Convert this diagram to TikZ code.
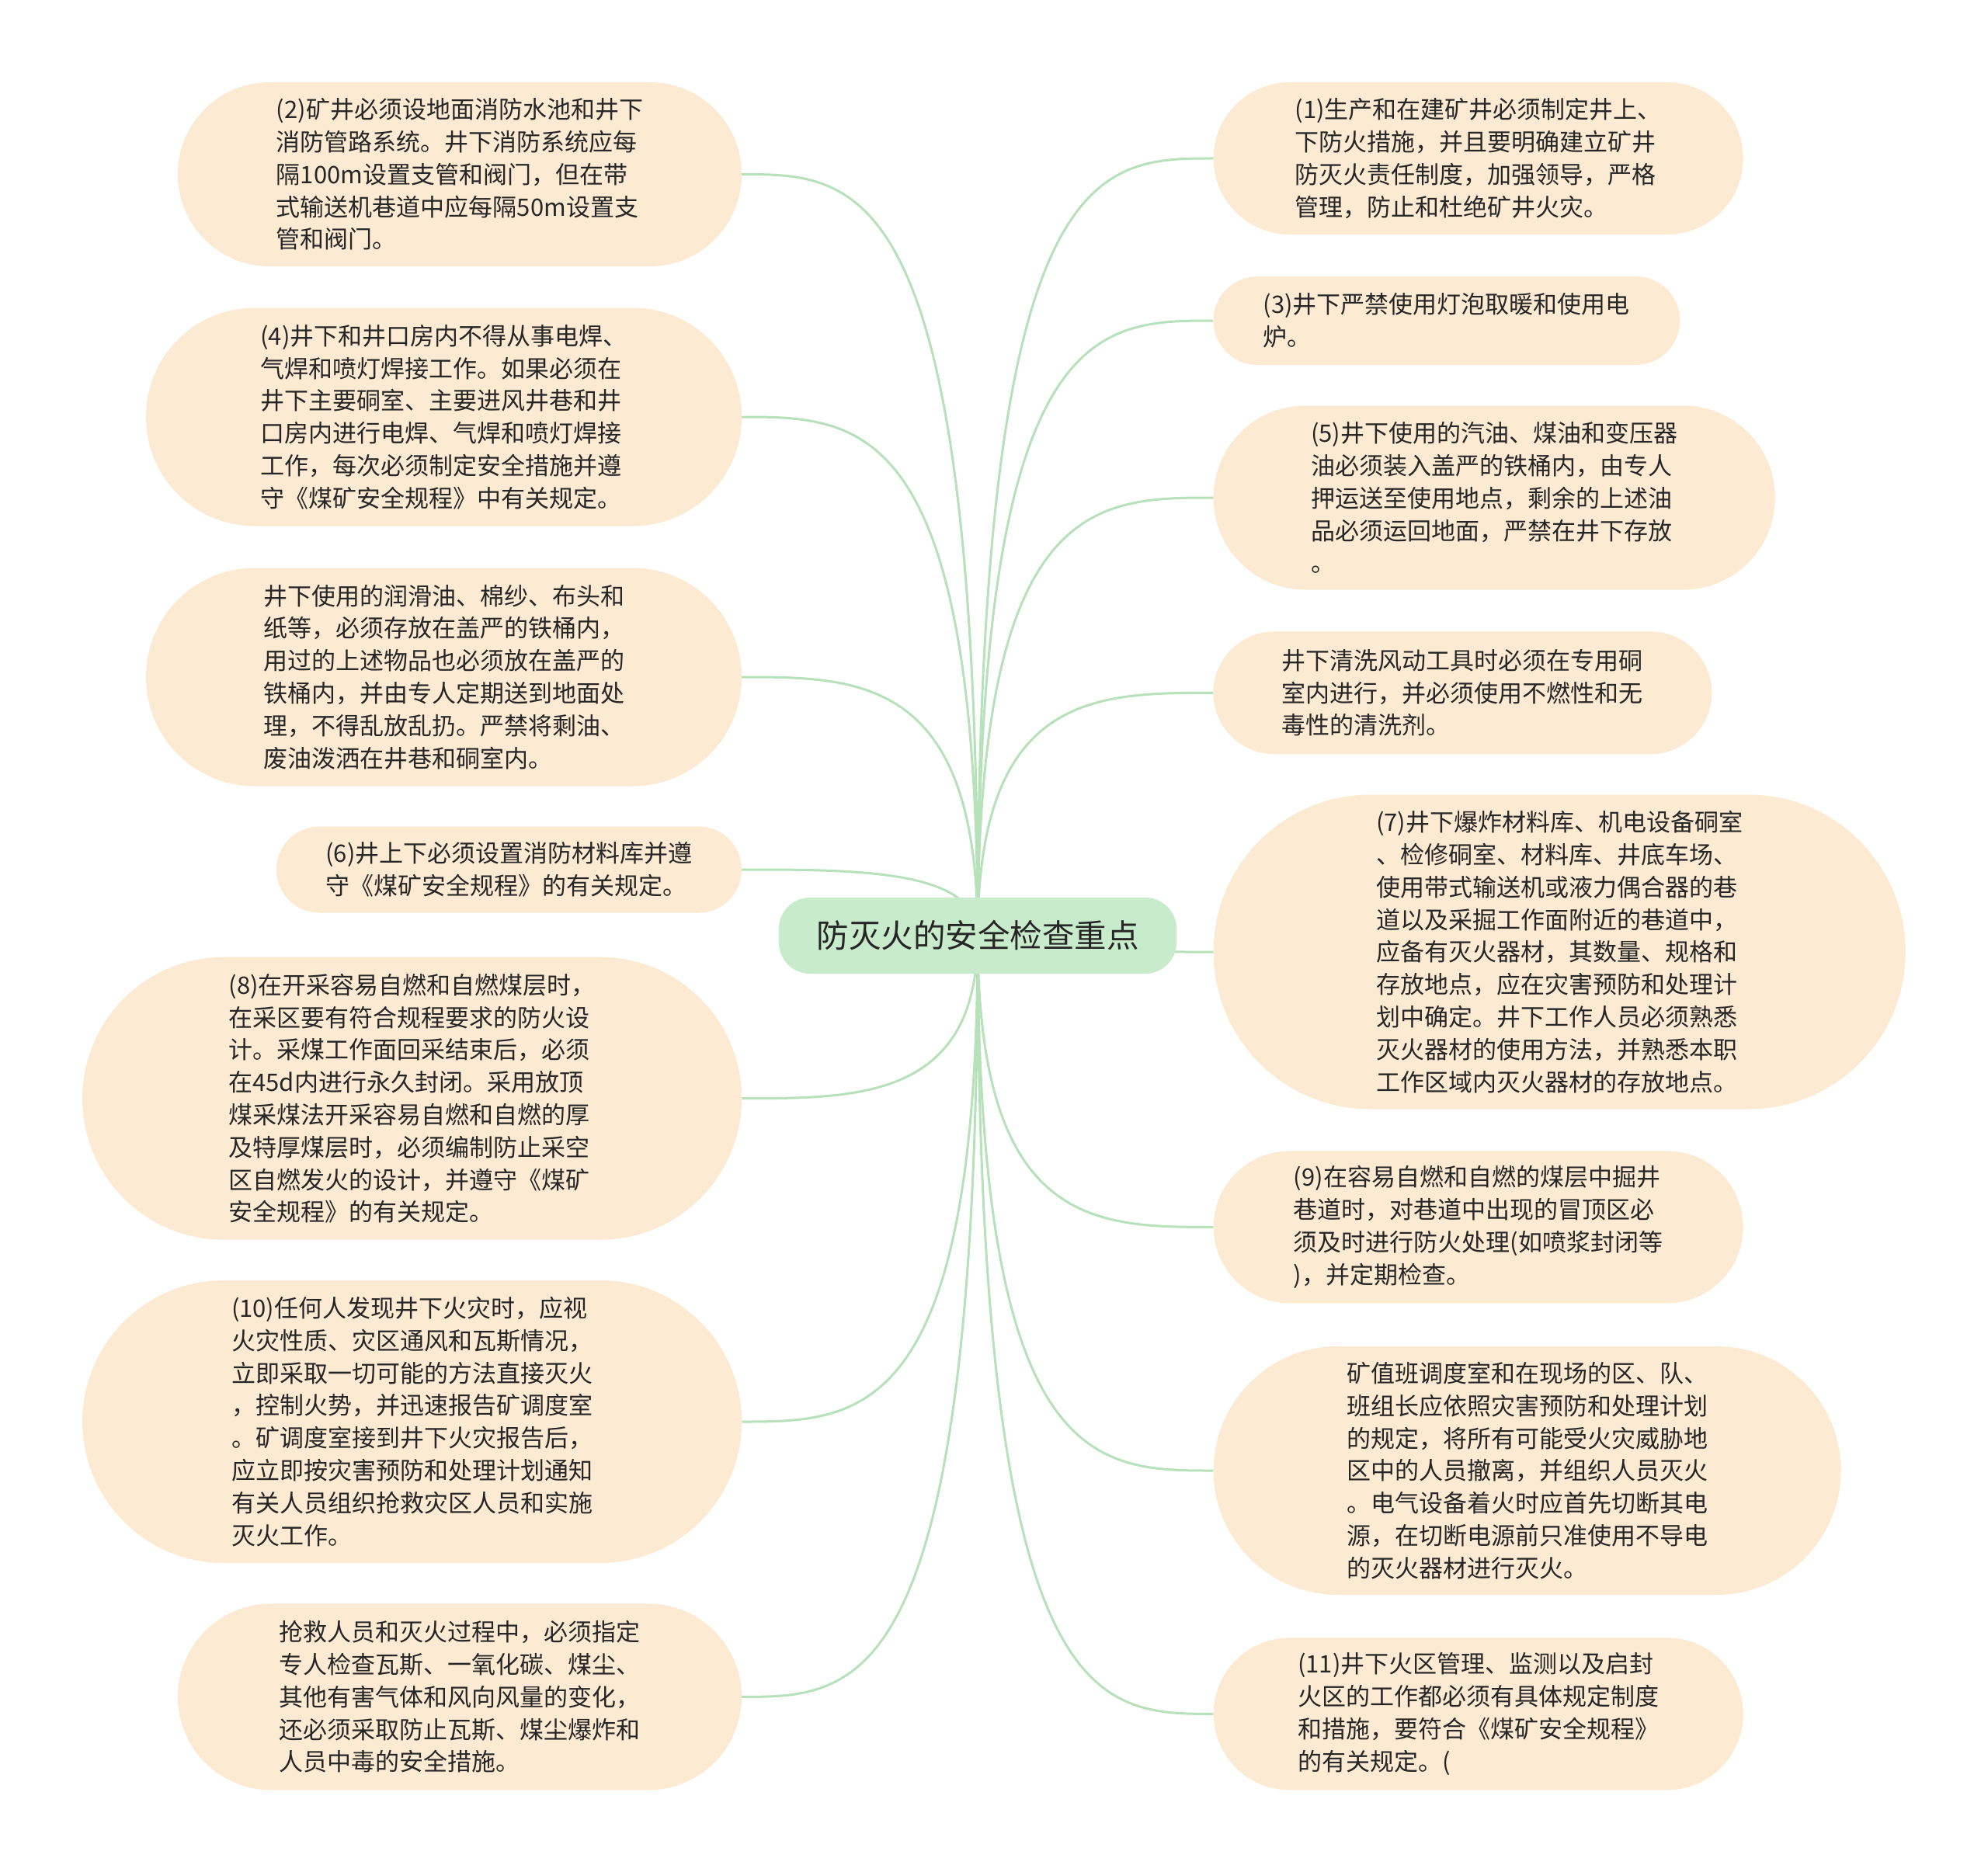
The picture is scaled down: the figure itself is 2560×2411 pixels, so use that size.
\documentclass[tikz,border=0pt]{standalone}
\usepackage{fontspec}
\setmainfont{Noto Sans CJK SC}
\usetikzlibrary{calc}
\pgfdeclarelayer{back}
\pgfdeclarelayer{bg}
\pgfsetlayers{back,bg,main}
\definecolor{leaffill}{HTML}{FDEAD3}
\definecolor{rootfill}{HTML}{C8EBCB}
\definecolor{linkc}{HTML}{B7E1BB}
\definecolor{textc}{HTML}{262626}
\newcommand\linkto[1]{\draw[link] (root.center) .. controls (root.center |- #1) and ($(root.center |- #1)!0.5!(#1)$) .. (#1);}
\begin{document}
\begin{tikzpicture}[x=1pt,y=-1pt,
  leaf/.style={fill=leaffill, text=textc, align=left, inner sep=0pt, font=\fontsize{31}{41.8}\selectfont},
  rootbox/.style={fill=rootfill, text=textc, inner sep=0pt, font=\fontsize{41.5}{50}\selectfont, minimum width=512, minimum height=98, rounded corners=40},
  link/.style={draw=linkc, line width=3pt}]
\begin{pgfonlayer}{back}
\useasboundingbox[fill=white] (0,0) rectangle (2560,2411);
\end{pgfonlayer}

\node[rootbox] (root) at (1259,1205) {防灭火的安全检查重点};

% left side
\node[leaf, minimum width=726, minimum height=237, rounded corners=118] (L1) at (592,224.5)
{(2)矿井必须设地面消防水池和井下\\消防管路系统。井下消防系统应每\\隔100m设置支管和阀门，但在带\\式输送机巷道中应每隔50m设置支\\管和阀门。};
\node[leaf, minimum width=767, minimum height=281, rounded corners=140] (L2) at (571.5,537)
{(4)井下和井口房内不得从事电焊、\\气焊和喷灯焊接工作。如果必须在\\井下主要硐室、主要进风井巷和井\\口房内进行电焊、气焊和喷灯焊接\\工作，每次必须制定安全措施并遵\\守《煤矿安全规程》中有关规定。};
\node[leaf, minimum width=767, minimum height=281, rounded corners=140] (L3) at (571.5,872)
{井下使用的润滑油、棉纱、布头和\\纸等，必须存放在盖严的铁桶内，\\用过的上述物品也必须放在盖严的\\铁桶内，并由专人定期送到地面处\\理，不得乱放乱扔。严禁将剩油、\\废油泼洒在井巷和硐室内。};
\node[leaf, minimum width=599, minimum height=111, rounded corners=55] (L4) at (655.5,1120)
{(6)井上下必须设置消防材料库并遵\\守《煤矿安全规程》的有关规定。};
\node[leaf, minimum width=849, minimum height=364, rounded corners=182] (L5) at (530.6,1414.7)
{(8)在开采容易自燃和自燃煤层时，\\在采区要有符合规程要求的防火设\\计。采煤工作面回采结束后，必须\\在45d内进行永久封闭。采用放顶\\煤采煤法开采容易自燃和自燃的厚\\及特厚煤层时，必须编制防止采空\\区自燃发火的设计，并遵守《煤矿\\安全规程》的有关规定。};
\node[leaf, minimum width=849, minimum height=364, rounded corners=182] (L6) at (530.6,1831)
{(10)任何人发现井下火灾时，应视\\火灾性质、灾区通风和瓦斯情况，\\立即采取一切可能的方法直接灭火\\，控制火势，并迅速报告矿调度室\\。矿调度室接到井下火灾报告后，\\应立即按灾害预防和处理计划通知\\有关人员组织抢救灾区人员和实施\\灭火工作。};
\node[leaf, minimum width=726, minimum height=240, rounded corners=120] (L7) at (592,2185.4)
{抢救人员和灭火过程中，必须指定\\专人检查瓦斯、一氧化碳、煤尘、\\其他有害气体和风向风量的变化，\\还必须采取防止瓦斯、煤尘爆炸和\\人员中毒的安全措施。};

% right side
\node[leaf, minimum width=682, minimum height=196, rounded corners=98] (R1) at (1903.7,204)
{(1)生产和在建矿井必须制定井上、\\下防火措施，并且要明确建立矿井\\防灭火责任制度，加强领导，严格\\管理，防止和杜绝矿井火灾。};
\node[leaf, minimum width=601, minimum height=114, rounded corners=57] (R2) at (1862.9,413)
{(3)井下严禁使用灯泡取暖和使用电\\炉。};
\node[leaf, minimum width=723, minimum height=237, rounded corners=118] (R3) at (1924.2,641)
{(5)井下使用的汽油、煤油和变压器\\油必须装入盖严的铁桶内，由专人\\押运送至使用地点，剩余的上述油\\品必须运回地面，严禁在井下存放\\。};
\node[leaf, minimum width=642, minimum height=158, rounded corners=79] (R4) at (1883.3,892.3)
{井下清洗风动工具时必须在专用硐\\室内进行，并必须使用不燃性和无\\毒性的清洗剂。};
\node[leaf, minimum width=891, minimum height=405, rounded corners=202] (R5) at (2008.2,1226)
{(7)井下爆炸材料库、机电设备硐室\\、检修硐室、材料库、井底车场、\\使用带式输送机或液力偶合器的巷\\道以及采掘工作面附近的巷道中，\\应备有灭火器材，其数量、规格和\\存放地点，应在灾害预防和处理计\\划中确定。井下工作人员必须熟悉\\灭火器材的使用方法，并熟悉本职\\工作区域内灭火器材的存放地点。};
\node[leaf, minimum width=682, minimum height=196, rounded corners=98] (R6) at (1903.7,1580.4)
{(9)在容易自燃和自燃的煤层中掘井\\巷道时，对巷道中出现的冒顶区必\\须及时进行防火处理(如喷浆封闭等\\)，并定期检查。};
\node[leaf, minimum width=808, minimum height=320, rounded corners=160] (R7) at (1966.6,1894)
{矿值班调度室和在现场的区、队、\\班组长应依照灾害预防和处理计划\\的规定，将所有可能受火灾威胁地\\区中的人员撤离，并组织人员灭火\\。电气设备着火时应首先切断其电\\源，在切断电源前只准使用不导电\\的灭火器材进行灭火。};
\node[leaf, minimum width=682, minimum height=196, rounded corners=98] (R8) at (1903.7,2207.4)
{(11)井下火区管理、监测以及启封\\火区的工作都必须有具体规定制度\\和措施，要符合《煤矿安全规程》\\的有关规定。(};

\begin{pgfonlayer}{bg}
\linkto{L1.east}
\linkto{L2.east}
\linkto{L3.east}
\linkto{L4.east}
\linkto{L5.east}
\linkto{L6.east}
\linkto{L7.east}
\linkto{R1.west}
\linkto{R2.west}
\linkto{R3.west}
\linkto{R4.west}
\linkto{R5.west}
\linkto{R6.west}
\linkto{R7.west}
\linkto{R8.west}
\end{pgfonlayer}
\end{tikzpicture}
\end{document}
